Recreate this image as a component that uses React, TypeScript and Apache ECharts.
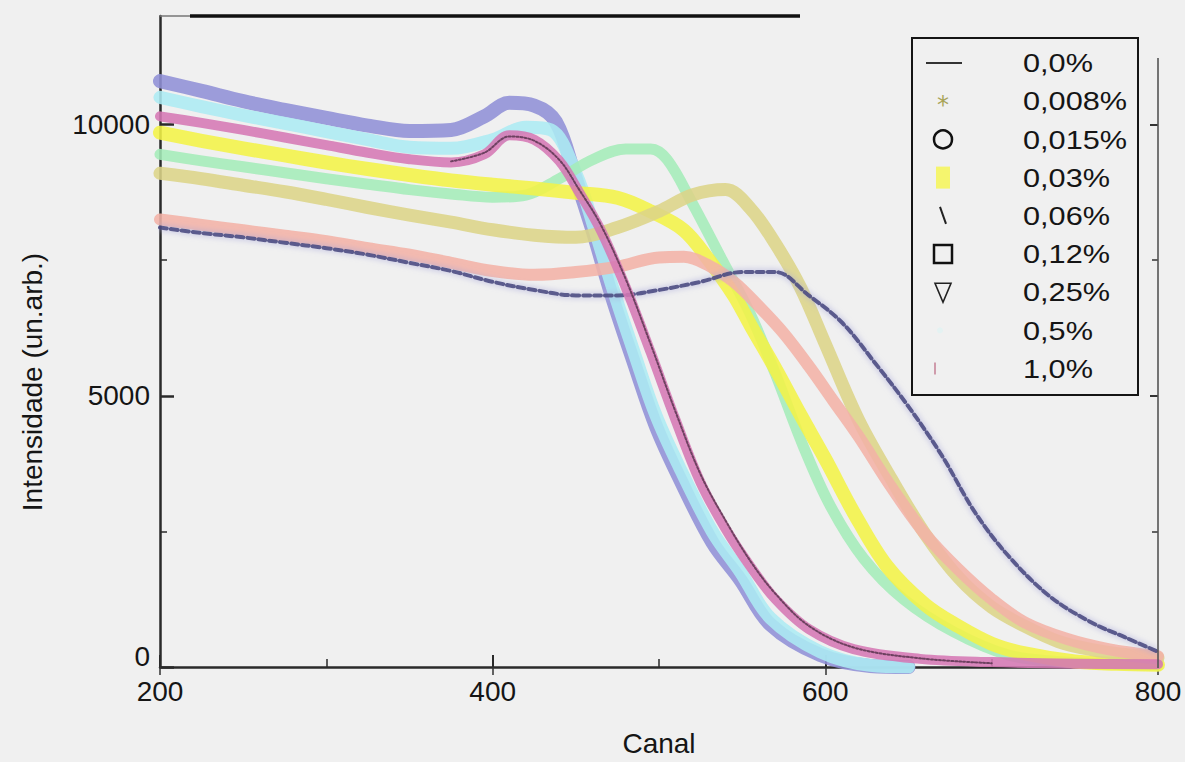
import React, { useEffect, useRef } from 'react';
import * as echarts from 'echarts';

// ---- Data (Canal, Intensidade) ----
const xTickValues = [200, 400, 600, 800];
const yTickValues = [0, 5000, 10000];
const legendNames = ['0,0%', '0,008%', '0,015%', '0,03%', '0,06%', '0,12%', '0,25%', '0,5%', '1,0%'];

const c000: number[][] = [
  [200, 8100], [225, 8000], [250, 7920], [275, 7820], [300, 7720], [325, 7600], [350, 7450], [375, 7300],
  [400, 7100], [425, 6950], [450, 6850], [475, 6850], [500, 6950], [525, 7100], [550, 7280], [570, 7280],
  [590, 6850], [610, 6350], [630, 5600], [650, 4800], [670, 3900], [690, 2850], [710, 2050], [735, 1300],
  [760, 820], [780, 550], [800, 280],
];
const c0008: number[][] = [
  [200, 9100], [225, 9000], [250, 8880], [275, 8760], [300, 8620], [325, 8470], [350, 8330], [375, 8200],
  [400, 8060], [425, 7960], [450, 7920], [475, 8100], [500, 8400], [520, 8700], [540, 8800], [555, 8450],
  [570, 7800], [585, 7000], [600, 5950], [620, 4550], [640, 3450], [660, 2450], [680, 1650], [700, 1100],
  [720, 750], [740, 470], [760, 320], [780, 230], [800, 170],
];
const c0015: number[][] = [
  [200, 8250], [225, 8150], [250, 8050], [275, 7950], [300, 7850], [325, 7720], [350, 7600], [375, 7450],
  [400, 7300], [425, 7230], [450, 7280], [475, 7380], [500, 7550], [515, 7560], [530, 7400], [545, 7100],
  [560, 6650], [575, 6150], [590, 5550], [605, 4900], [620, 4250], [640, 3300], [660, 2450], [680, 1800],
  [700, 1250], [720, 820], [745, 520], [770, 330], [800, 200],
];
const c003: number[][] = [
  [200, 9850], [225, 9700], [250, 9560], [275, 9430], [300, 9300], [325, 9180], [350, 9070], [375, 8970],
  [400, 8890], [425, 8820], [450, 8740], [475, 8650], [495, 8400], [515, 8050], [530, 7500], [545, 6850],
  [555, 6300], [570, 5500], [585, 4650], [600, 3830], [617, 2850], [637, 1860], [660, 1150], [680, 750],
  [700, 430], [720, 250], [750, 100], [775, 60], [800, 40],
];
const c006: number[][] = [
  [200, 9450], [225, 9330], [250, 9220], [275, 9110], [300, 9000], [325, 8900], [350, 8800], [375, 8720],
  [400, 8660], [420, 8700], [440, 9000], [460, 9350], [480, 9550], [495, 9550], [505, 9350], [520, 8550],
  [538, 7500], [555, 6500], [570, 5400], [587, 4050], [603, 2970], [623, 2000], [647, 1250], [677, 650],
  [710, 220], [740, 100], [770, 50], [800, 30],
];
const c012: number[][] = [
  [375, 9320], [395, 9480], [410, 9780], [425, 9700], [440, 9350], [452, 8800], [465, 8150], [480, 7150],
  [495, 5950], [510, 4700], [525, 3550], [540, 2700], [555, 1950], [570, 1350], [590, 760], [617, 360],
  [657, 160], [700, 70],
];
const c025: number[][] = [
  [200, 10800], [225, 10620], [250, 10430], [275, 10270], [300, 10120], [325, 9980], [350, 9880], [375, 9900],
  [395, 10150], [410, 10400], [425, 10350], [438, 10050], [450, 9000], [460, 8050], [472, 6800], [485, 5600],
  [498, 4450], [512, 3500], [532, 2300], [549, 1600], [567, 780], [597, 220], [627, 20], [650, 0],
];
const c05: number[][] = [
  [200, 10500], [225, 10330], [250, 10170], [275, 10020], [300, 9870], [325, 9720], [350, 9580], [375, 9560],
  [400, 9720], [420, 9950], [435, 9900], [450, 9100], [460, 8200], [472, 7000], [485, 5800], [498, 4650],
  [512, 3700], [532, 2500], [549, 1750], [567, 900], [597, 280], [627, 30], [650, 0],
];
const c10: number[][] = [
  [200, 10150], [225, 10030], [250, 9900], [275, 9760], [300, 9620], [325, 9480], [350, 9360], [375, 9300],
  [395, 9450], [410, 9800], [425, 9720], [440, 9330], [452, 8750], [465, 8050], [480, 7000], [495, 5800],
  [510, 4550], [525, 3400], [540, 2550], [555, 1850], [570, 1250], [590, 700], [617, 330], [657, 150],
  [700, 90], [750, 60], [800, 50],
];

const FONT = '"Liberation Sans", Arial, Helvetica, sans-serif';
const BG = '#f0f0f0';

export default function App() {
  const ref = useRef<HTMLDivElement>(null);
  useEffect(() => {
    if (!ref.current) return;
    const chart = echarts.init(ref.current, undefined, { renderer: 'svg' });

    const band = (name: string, data: number[][], color: string, width: number, z: number, extra: any = {}) => ({
      name, type: 'line', data, smooth: 0.35, showSymbol: false, symbol: 'none', z,
      lineStyle: { color, width, opacity: 0.88, cap: 'round', join: 'round', ...extra },
    });

    const legendY = (i: number) => 63 + i * 38.2;
    const legendGraphics: any[] = [
      { type: 'rect', shape: { x: 912, y: 38, width: 226, height: 357 }, style: { fill: BG, stroke: '#151515', lineWidth: 2 }, z: 100 },
    ];
    legendNames.forEach((n, i) => {
      legendGraphics.push({
        type: 'text', x: 1023, y: legendY(i), z: 101,
        scaleX: 1.18,
        style: { text: n, fontSize: 26, fontFamily: FONT, fill: '#151515', align: 'left', verticalAlign: 'middle' },
      });
    });
    legendGraphics.push(
      { type: 'line', z: 101, shape: { x1: 926, y1: legendY(0), x2: 962, y2: legendY(0) }, style: { stroke: '#333', lineWidth: 2 } },
      { type: 'text', z: 101, x: 943, y: legendY(1) + 4, style: { text: '*', fontSize: 24, fontFamily: 'DejaVu Sans', fill: '#a8a458', align: 'center', verticalAlign: 'middle' } },
      { type: 'circle', z: 101, shape: { cx: 943, cy: legendY(2), r: 9 }, style: { fill: 'none', stroke: '#111', lineWidth: 2.5 } },
      { type: 'rect', z: 101, shape: { x: 936, y: legendY(3) - 11, width: 14, height: 22 }, style: { fill: '#f5f56e' } },
      { type: 'line', z: 101, shape: { x1: 940, y1: legendY(4) - 9, x2: 946, y2: legendY(4) + 8 }, style: { stroke: '#222', lineWidth: 2 } },
      { type: 'rect', z: 101, shape: { x: 934, y: legendY(5) - 9, width: 18, height: 18 }, style: { fill: 'none', stroke: '#111', lineWidth: 2.5 } },
      { type: 'polygon', z: 101, shape: { points: [[935, legendY(6) - 9], [951, legendY(6) - 9], [943, legendY(6) + 10]] }, style: { fill: 'none', stroke: '#222', lineWidth: 1.6 } },
      { type: 'circle', z: 101, shape: { cx: 940, cy: legendY(7), r: 3 }, style: { fill: '#e4f2f2' } },
      { type: 'line', z: 101, shape: { x1: 935, y1: legendY(8) - 6, x2: 935, y2: legendY(8) + 6 }, style: { stroke: '#c47f95', lineWidth: 1.5 } },
    );

    const option: any = {
      animation: false,
      backgroundColor: BG,
      grid: { left: 160, right: 27, top: 16, bottom: 94, containLabel: false },
      xAxis: [
        {
          type: 'value', min: 200, max: 800, interval: 200, position: 'bottom',
          name: 'Canal', nameLocation: 'middle', nameGap: 62,
          nameTextStyle: { fontSize: 28, fontFamily: FONT, color: '#151515' },
          axisLine: { show: true, onZero: false, lineStyle: { color: '#2a2a2a', width: 2.5 } },
          axisTick: { show: true, inside: true, length: 12, lineStyle: { color: '#2a2a2a', width: 2 }, customValues: xTickValues },
          minorTick: { show: true, splitNumber: 2, length: 8, lineStyle: { color: '#2a2a2a', width: 1.5 } },
          axisLabel: { fontSize: 28, fontFamily: FONT, color: '#151515', margin: 10, customValues: xTickValues },
          splitLine: { show: false },
        },
        {
          type: 'value', min: 200, max: 800, interval: 200, position: 'top',
          axisLine: { show: false },
          axisTick: { show: true, inside: true, length: 8, lineStyle: { color: '#333', width: 1.5 } },
          axisLabel: { show: false }, splitLine: { show: false },
        },
      ],
      yAxis: [
        {
          type: 'value', min: 0, max: 12000, interval: 5000, position: 'left',
          axisLine: { show: true, onZero: false, lineStyle: { color: '#2a2a2a', width: 2.5 } },
          axisTick: { show: true, inside: true, length: 14, lineStyle: { color: '#2a2a2a', width: 2.5 }, customValues: yTickValues },
          minorTick: { show: true, splitNumber: 2, length: 7, lineStyle: { color: '#2a2a2a', width: 1.5 } },
          axisLabel: {
            fontSize: 28, fontFamily: FONT, color: '#151515', margin: 10,
            customValues: yTickValues,
            formatter: (v: number) => (v === 0 ? '{z|0}' : String(v)),
            rich: { z: { fontSize: 28, fontFamily: FONT, color: '#151515', padding: [0, 0, 22, 0] } },
          },
          splitLine: { show: false },
        },
        {
          type: 'value', min: 0, max: 12000, interval: 5000, position: 'right',
          axisLine: { show: false },
          axisTick: { show: true, inside: true, length: 8, lineStyle: { color: '#333', width: 2 }, customValues: yTickValues },
          minorTick: { show: true, splitNumber: 2, length: 6, lineStyle: { color: '#333', width: 1.5 } },
          axisLabel: { show: false }, splitLine: { show: false },
        },
      ],
      series: [
        band(legendNames[6], c025, '#9090d6', 14, 2),
        band(legendNames[7], c05, '#acebf3', 13, 3),
        band(legendNames[4], c006, '#a4ecb8', 11, 4),
        band(legendNames[3], c003, '#f3f347', 14, 5),
        band(legendNames[1], c0008, '#dcd488', 13, 6),
        band(legendNames[2], c0015, '#f3b2a6', 12, 7),
        band(legendNames[0], c000, '#46467e', 4, 8, { type: [7, 4], shadowColor: '#a8a8da', shadowBlur: 6 }),
        band(legendNames[8], c10, '#d577b4', 10, 9),
        band(legendNames[5], c012, '#4a2a42', 2, 10, { type: 'dotted', opacity: 0.75 }),
      ],
      graphic: [
        { type: 'line', z: 50, shape: { x1: 160, y1: 16, x2: 190, y2: 16 }, style: { stroke: '#777', lineWidth: 1.5 } },
        { type: 'line', z: 50, shape: { x1: 190, y1: 16, x2: 800, y2: 16 }, style: { stroke: '#111', lineWidth: 3.5 } },
        { type: 'line', z: 50, shape: { x1: 1158, y1: 58, x2: 1158, y2: 668 }, style: { stroke: '#555', lineWidth: 1.6 } },
        {
          type: 'text', x: 32, y: 382, rotation: Math.PI / 2, z: 50,
          style: { text: 'Intensidade (un.arb.)', fontSize: 28, fontFamily: FONT, fill: '#151515', align: 'center', verticalAlign: 'middle' },
        },
        ...legendGraphics,
      ],
    };
    chart.setOption(option);
    return () => chart.dispose();
  }, []);

  return (
    <div style={{ position: 'absolute', left: 0, top: 0, width: 1185, height: 762, background: BG }}>
      <div ref={ref} style={{ width: 1185, height: 762 }} />
    </div>
  );
}
